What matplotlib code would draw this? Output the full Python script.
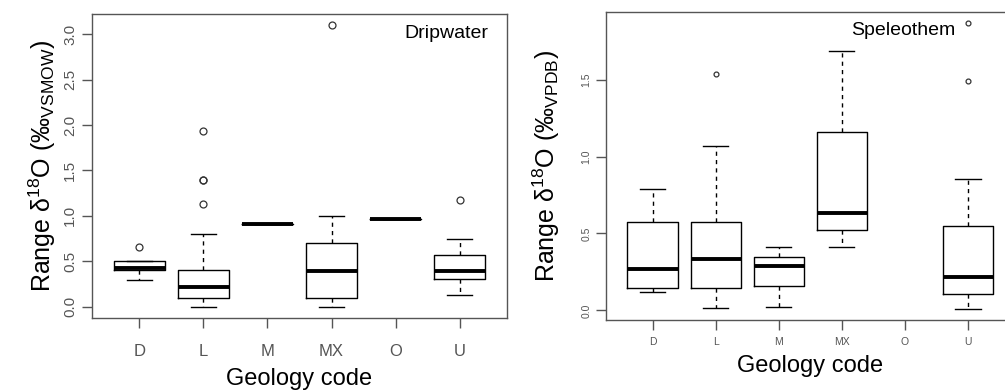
import matplotlib
matplotlib.use('Agg')
import matplotlib.pyplot as plt

plt.rcParams['font.family'] = ['Liberation Sans', 'DejaVu Sans']
plt.rcParams['mathtext.fontset'] = 'custom'
plt.rcParams['mathtext.rm'] = 'Liberation Sans'
plt.rcParams['mathtext.it'] = 'Liberation Sans:italic'

# Geology codes
codes = ['D', 'L', 'M', 'MX', 'O', 'U']

# Dripwater box statistics
drip_q1 = [0.40, 0.10, 0.91, 0.10, 0.96, 0.30]
drip_med = [0.42, 0.22, 0.91, 0.39, 0.96, 0.39]
drip_q3 = [0.50, 0.40, 0.91, 0.70, 0.96, 0.57]
drip_lo = [0.29, 0.00, 0.91, 0.00, 0.96, 0.125]
drip_hi = [0.50, 0.80, 0.91, 1.00, 0.96, 0.75]
drip_out = [[0.66], [1.94, 1.40, 1.39, 1.13], [], [3.10], [], [1.17]]

# Speleothem box statistics (O has no data)
spel_q1 = [0.148, 0.143, 0.156, 0.525, None, 0.104]
spel_med = [0.271, 0.336, 0.289, 0.636, None, 0.215]
spel_q3 = [0.577, 0.577, 0.350, 1.160, None, 0.550]
spel_lo = [0.120, 0.017, 0.020, 0.410, None, 0.009]
spel_hi = [0.790, 1.072, 0.410, 1.690, None, 0.853]
spel_out = [[], [1.54], [], [], [], [1.87, 1.49]]


def make_stats(q1, med, q3, lo, hi, out):
    stats, pos = [], []
    for i in range(len(codes)):
        if med[i] is None:
            continue
        stats.append(dict(q1=q1[i], med=med[i], q3=q3[i], whislo=lo[i],
                          whishi=hi[i], fliers=out[i]))
        pos.append(i + 1)
    return stats, pos


def draw(ax, stats, pos, ylim, yticks, tick_size, flier_size):
    ax.bxp(stats, positions=pos, widths=0.8, showfliers=True,
           boxprops=dict(color='black', linewidth=1.0),
           medianprops=dict(color='black', linewidth=2.8, solid_capstyle='butt'),
           whiskerprops=dict(color='black', linewidth=1.0, linestyle=(0, (3, 3))),
           capprops=dict(color='black', linewidth=1.0),
           capwidths=0.4,
           flierprops=dict(marker='o', markerfacecolor='none',
                           markeredgecolor='#333333', markersize=flier_size,
                           markeredgewidth=0.9))
    ax.set_xlim(0.26, 6.74)
    ax.set_ylim(*ylim)
    ax.set_xticks(range(1, 7))
    ax.set_xticklabels(codes)
    ax.set_yticks(yticks)
    ax.set_yticklabels(['%.1f' % t for t in yticks], rotation=90, va='center')
    ax.tick_params(direction='out', length=7, width=1, colors='#555555',
                   labelsize=tick_size, labelcolor='#555555')
    for s in ax.spines.values():
        s.set_color('#555555')
        s.set_linewidth(1.0)


fig = plt.figure(figsize=(10.05, 3.9), dpi=100)

# Dripwater panel
ax1 = fig.add_axes([0.0915, 0.185, 0.413, 0.779])
st, ps = make_stats(drip_q1, drip_med, drip_q3, drip_lo, drip_hi, drip_out)
draw(ax1, st, ps, (-0.124, 3.224), [0.0, 0.5, 1.0, 1.5, 2.0, 2.5, 3.0], 11, 5)
ax1.tick_params(axis='x', pad=12)
for lab in ax1.get_xticklabels():
    lab.set_family(['Liberation Sans Narrow', 'Liberation Sans'])
    lab.set_fontsize(12)
ax1.set_xlabel('Geology code', fontsize=17, labelpad=6)
ax1.set_ylabel('Range δ$^{18}$O (‰$_{\\mathrm{VSMOW}}$)', fontsize=18, labelpad=4)
ax1.text(0.955, 0.935, 'Dripwater', transform=ax1.transAxes, ha='right',
         va='center', fontsize=14)

# Speleothem panel
ax2 = fig.add_axes([0.603, 0.179, 0.4066, 0.790])
st, ps = make_stats(spel_q1, spel_med, spel_q3, spel_lo, spel_hi, spel_out)
draw(ax2, st, ps, (-0.064, 1.94), [0.0, 0.5, 1.0, 1.5], 7.5, 3.5)
ax2.tick_params(axis='x', pad=5)
ax2.set_xlabel('Geology code', fontsize=17, labelpad=6)
ax2.set_ylabel('Range δ$^{18}$O (‰$_{\\mathrm{VPDB}}$)', fontsize=18, labelpad=14)
ax2.text(0.855, 0.94, 'Speleothem', transform=ax2.transAxes, ha='right',
         va='center', fontsize=14)

fig.savefig('out.png', dpi=100)
